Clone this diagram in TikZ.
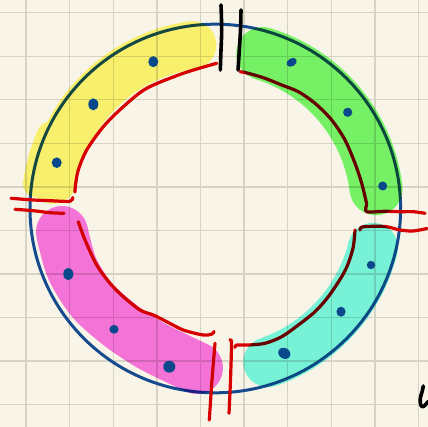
\documentclass[tikz,border=0pt]{standalone}
\definecolor{bg}{RGB}{248,245,232}
\definecolor{gridc}{RGB}{214,210,196}
\definecolor{ringblue}{RGB}{22,74,142}
\definecolor{penred}{RGB}{214,0,0}
\definecolor{hlyellow}{RGB}{255,250,120}
\definecolor{hlgreen}{RGB}{122,250,112}
\definecolor{hlcyan}{RGB}{124,252,236}
\definecolor{hlmagenta}{RGB}{250,120,236}
\definecolor{dotblue}{RGB}{10,72,140}
\tikzset{
 redpen/.style={draw=penred,line width=3.2pt,line cap=round,line join=round},
 blackpen/.style={draw=black,line width=3.6pt,line cap=round,line join=round},
 hl/.style={line width=#1,line cap=round,line join=round},
 dotmark/.style={fill=dotblue,draw=none},
 gridline/.style={draw=gridc,line width=1.4pt},
}
\begin{document}
\begin{tikzpicture}[x=1pt,y=-1pt]
\fill[bg] (0,0) rectangle (428,427);
\useasboundingbox (0,0) rectangle (428,427);
% grid
\foreach \i in {0,...,9} {
  \draw[gridline] ({26+43.63*\i},0) -- ({26+43.63*\i},427);
  \draw[gridline] (0,{12.7+43.55*\i}) -- (428,{12.7+43.55*\i});
}
% ring
\draw[ringblue,line width=3pt] (215.3,208.5) ellipse [x radius=185.3,y radius=184.3];
% red inner arcs
\draw[redpen] plot[smooth] coordinates {(216.7,63.3) (183.3,73.3) (146.7,88.3) (123.3,106.7) (103.3,126.7) (86.7,150) (78.3,170) (75.5,185) (75,192)};
\draw[redpen] plot[smooth] coordinates {(240,71.7) (248.3,73.3) (265,78.3) (281.7,85) (298.3,91.7) (315,103.3) (331.7,120) (345,140) (355,163.3) (361.7,183.3) (366.7,204)};
\draw[redpen] plot[smooth] coordinates {(235,347.3) (236.7,345) (248.3,345) (265,343.3) (281.7,336.7) (298.3,325) (315,311.7) (328.3,296.7) (341.7,276.7) (348.3,263.3) (353.3,246.7) (355,230)};
\draw[redpen] plot[smooth] coordinates {(78.3,221.7) (85,240) (96.7,265) (110,283.3) (123.3,296.7) (140,310) (153.3,315) (166.7,321.7) (183.3,330) (203.3,335) (212,334) (214,331.5)};
% left cuts
\draw[redpen] plot[smooth] coordinates {(11,198.3) (33.3,200) (50,200.7) (70,201.3) (72.7,197.5)};
\draw[redpen] plot[smooth] coordinates {(15,209.3) (33.3,210.7) (50,212.7) (64,213.3)};
% right cuts
\draw[redpen] plot[smooth] coordinates {(366.7,205) (366.7,211.7) (385,211.3) (400,211.7) (413.3,211.7) (425,213.3)};
\draw[redpen] plot[smooth] coordinates {(360,230) (363,226.8) (385,226.5) (400,230) (413,231) (427,228.5)};
% bottom cuts
\draw[redpen] plot[smooth] coordinates {(215,343.3) (212,380) (209.3,420)};
\draw[redpen] plot[smooth] coordinates {(230,340) (231.5,343.5) (230.5,380) (229,413.3)};
% highlighter
\begin{scope}[blend mode=multiply]
\fill[hlyellow]
  plot[domain=98:170,samples=30] ({215.3+189*cos(\x)},{208.5-189*sin(\x)})
  -- plot[domain=170:350,samples=20] ({52.81+24*cos(\x)},{179.85-24*sin(\x)})
  -- plot[domain=170:98,samples=30] ({215.3+141*cos(\x)},{208.5-141*sin(\x)})
  -- plot[domain=278:458,samples=20] ({192.34+24*cos(\x)},{45.11-24*sin(\x)}) -- cycle
  plot[domain=156:172,samples=8] ({215.3+194*cos(\x)},{208.5-194*sin(\x)})
  -- plot[domain=172:352,samples=16] ({37.05+14*cos(\x)},{183.45-14*sin(\x)})
  -- plot[domain=172:156,samples=8] ({215.3+166*cos(\x)},{208.5-166*sin(\x)})
  -- plot[domain=336:516,samples=16] ({50.86+14*cos(\x)},{135.29-14*sin(\x)}) -- cycle;
\draw[hlgreen,hl=53pt] plot[domain=73:7,samples=40] ({215.3+162*cos(\x)},{208.5-162*sin(\x)});
\draw[hlcyan,hl=50pt] plot[domain=-14:-71,samples=40] ({215.3+162.5*cos(\x)},{208.5-162.5*sin(\x)});
\draw[hlmagenta,hl=52pt] plot[smooth] coordinates {(62,232) (72,268) (92,300) (120,325) (150,345) (180,360) (197,368)};
\end{scope}
% dots
\fill[dotmark] (153.3,61.7) ellipse [x radius=5,y radius=5.5];
\fill[dotmark] (93.3,104.3) ellipse [x radius=5,y radius=6];
\fill[dotmark] (56.7,162.7) ellipse [x radius=5,y radius=5.3];
\fill[dotmark,rotate around={30:(291.7,62.3)}] (291.7,62.3) ellipse [x radius=5.5,y radius=4];
\fill[dotmark] (347.7,112.3) ellipse [x radius=4.6,y radius=4.6];
\fill[dotmark] (382.7,186) ellipse [x radius=4.5,y radius=4.5];
\fill[dotmark] (68.3,274) ellipse [x radius=5,y radius=6.2];
\fill[dotmark] (114,329.3) ellipse [x radius=4.6,y radius=4.4];
\fill[dotmark] (169.3,366.7) ellipse [x radius=6,y radius=6];
\fill[dotmark] (371,265) ellipse [x radius=4.2,y radius=4.2];
\fill[dotmark] (341,311.7) ellipse [x radius=4.6,y radius=5];
\fill[dotmark,rotate around={-30:(284.3,353.3)}] (284.3,353.3) ellipse [x radius=6.3,y radius=5.3];
% top cut
\draw[blackpen] plot[smooth] coordinates {(221,5) (221.7,30) (221,50) (220.3,70)};
\draw[blackpen] plot[smooth] coordinates {(241,10) (240.5,30) (239,55) (238,70)};
% partial stroke bottom right
\draw[blackpen] plot[smooth] coordinates {(423.3,386) (422.3,391) (420.3,398.3) (420.7,405) (423.3,406.7) (426.7,403.3) (428.5,401.5)};
\end{tikzpicture}
\end{document}
